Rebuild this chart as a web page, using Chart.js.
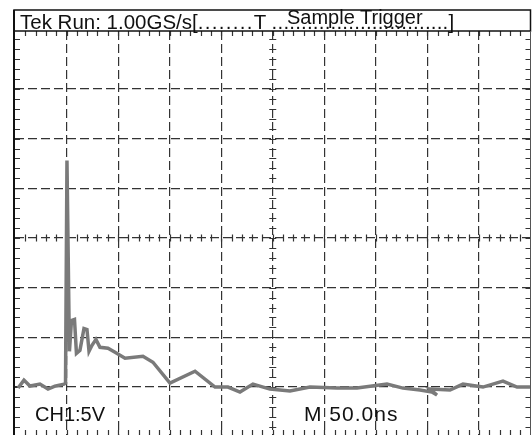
<!DOCTYPE html>
<html>
<head>
<meta charset="utf-8">
<script src="https://cdn.jsdelivr.net/npm/chart.js@4.4.1/dist/chart.umd.min.js"></script>
<style>
  html, body { margin: 0; padding: 0; background: #fff; }
  #wrap { position: relative; width: 532px; height: 435px; overflow: hidden; }
  canvas { position: absolute; left: 0; top: 0; }
  .lbl { position: absolute; font-family: "Liberation Sans", Arial, sans-serif; font-size: 20px; line-height: 20px; color: #111; white-space: pre; }
</style>
</head>
<body>
<div id="wrap">
  <canvas id="c" width="532" height="435"></canvas>
  <div class="lbl" id="hdr" style="left:20px; top:12px; font-size:20.5px;">Tek Run: 1.00GS/s[<span style="letter-spacing:1.3px">........</span>T <span style="letter-spacing:0.2px">..............................</span>]</div>
  <div class="lbl" id="trig" style="left:287px; top:7px;">Sample Trigger</div>
  <div class="lbl" id="ch" style="left:35px; top:404px;">CH1:5V</div>
  <div class="lbl" id="tb" style="left:304px; top:404px; font-size:21px; letter-spacing:1px;">M 50.0ns</div>
</div>
<script>
// ---- data (time in ns, relative to screen centre; voltage in V) ----
const timeNs = [
  -247, -241.3, -235.5, -225.8, -218, -211.3, -202.5, -201,
  -199.6, -197.2, -195.2, -192.3, -190.4, -187, -183.1, -180.2,
  -178.2, -175.3, -171.5, -167.6, -159.8, -153, -143.3, -125.9,
  -116.2, -99.7, -75.4, -56, -43.4, -31.8, -19.2, -2.7,
  16.7, 36.1, 62.3, 81.7, 110.8, 126.3, 142.8, 154.4,
  159.3, 152.5, 171.9, 184.5, 203.9, 223.3, 236.9, 249.5
];
const voltage = [
  -15.1, -14.3, -14.9, -14.7, -15.2, -14.9, -14.7, -14.6,
  7.8, -11.4, -8.3, -8.2, -11.6, -11.3, -9.1, -9.2,
  -11.4, -10.8, -10.2, -11.0, -11.1, -11.5, -12.1, -11.9,
  -12.5, -14.6, -13.4, -15.0, -15.0, -15.5, -14.7, -15.2,
  -15.4, -15.0, -15.1, -15.1, -14.7, -15.1, -15.3, -15.5,
  -15.8, -15.2, -15.3, -14.7, -15.0, -14.4, -15.0, -15.0
];
const timeTicks = [-200, -150, -100, -50, 0, 50, 100, 150, 200];
const voltTicks = [-15, -10, -5, 0, 5, 10, 15];
const timeRange = [-250, 250];
const voltRange = [-19.82, 20.82];

const points = timeNs.map((t, i) => ({ x: t, y: voltage[i] }));

const GRID = '#333333';

const scopeDecor = {
  id: 'scopeDecor',
  beforeDatasetsDraw(chart) {
    const { ctx, chartArea: a, scales: { x, y } } = chart;
    ctx.save();
    ctx.strokeStyle = GRID;
    ctx.lineWidth = 1.2;
    const x0 = x.getPixelForValue(0), y0 = y.getPixelForValue(0);
    ctx.beginPath();
    // minor ticks along time axis (0.2 div = 10 ns)
    for (let t = timeRange[0] + 10; t < timeRange[1]; t += 10) {
      const px = Math.round(x.getPixelForValue(t)) + 0.5;
      ctx.moveTo(px, a.top); ctx.lineTo(px, a.top + 5);
      ctx.moveTo(px, a.bottom); ctx.lineTo(px, a.bottom - 5);
      ctx.moveTo(px, y0 - 3.5); ctx.lineTo(px, y0 + 3.5);
    }
    // minor ticks along voltage axis (0.2 div = 1 V)
    for (let v = -19; v <= 20; v += 1) {
      const py = Math.round(y.getPixelForValue(v)) + 0.5;
      ctx.moveTo(a.left, py); ctx.lineTo(a.left + 5, py);
      ctx.moveTo(a.right, py); ctx.lineTo(a.right - 5, py);
      ctx.moveTo(x0 - 3.5, py); ctx.lineTo(x0 + 3.5, py);
    }
    ctx.stroke();
    // frame
    ctx.strokeStyle = '#111';
    ctx.lineWidth = 2;
    ctx.beginPath();
    ctx.moveTo(a.left - 1, 10); ctx.lineTo(a.left - 1, 435);
    ctx.stroke();
    ctx.lineWidth = 1.5;
    ctx.strokeRect(a.left - 1, 10, a.right - a.left + 1, a.top - 10);
    ctx.lineWidth = 1;
    ctx.strokeStyle = '#555';
    ctx.beginPath();
    ctx.moveTo(a.right, a.top); ctx.lineTo(a.right, 435);
    ctx.stroke();
    ctx.restore();
  }
};

new Chart(document.getElementById('c'), {
  type: 'line',
  data: {
    datasets: [{
      data: points,
      borderColor: '#7a7a7a',
      borderWidth: 3.5,
      pointRadius: 0,
      tension: 0,
      fill: false
    }]
  },
  options: {
    responsive: false,
    animation: false,
    devicePixelRatio: 1,
    layout: { padding: { left: 15, right: 1.5, top: 31, bottom: 0 } },
    plugins: { legend: { display: false }, tooltip: { enabled: false } },
    scales: {
      x: {
        type: 'linear', min: timeRange[0], max: timeRange[1],
        afterBuildTicks: s => { s.ticks = timeTicks.map(v => ({ value: v })); },
        afterFit: s => { s.height = 0; },
        ticks: { display: false },
        grid: { color: GRID, lineWidth: 1.2, drawTicks: false },
        border: { display: false, dash: [9, 4] }
      },
      y: {
        type: 'linear', min: voltRange[0], max: voltRange[1],
        afterBuildTicks: s => { s.ticks = voltTicks.map(v => ({ value: v })); },
        afterFit: s => { s.width = 0; },
        ticks: { display: false },
        grid: { color: GRID, lineWidth: 1.2, drawTicks: false },
        border: { display: false, dash: [9, 4] }
      }
    }
  },
  plugins: [scopeDecor]
});
</script>
</body>
</html>
